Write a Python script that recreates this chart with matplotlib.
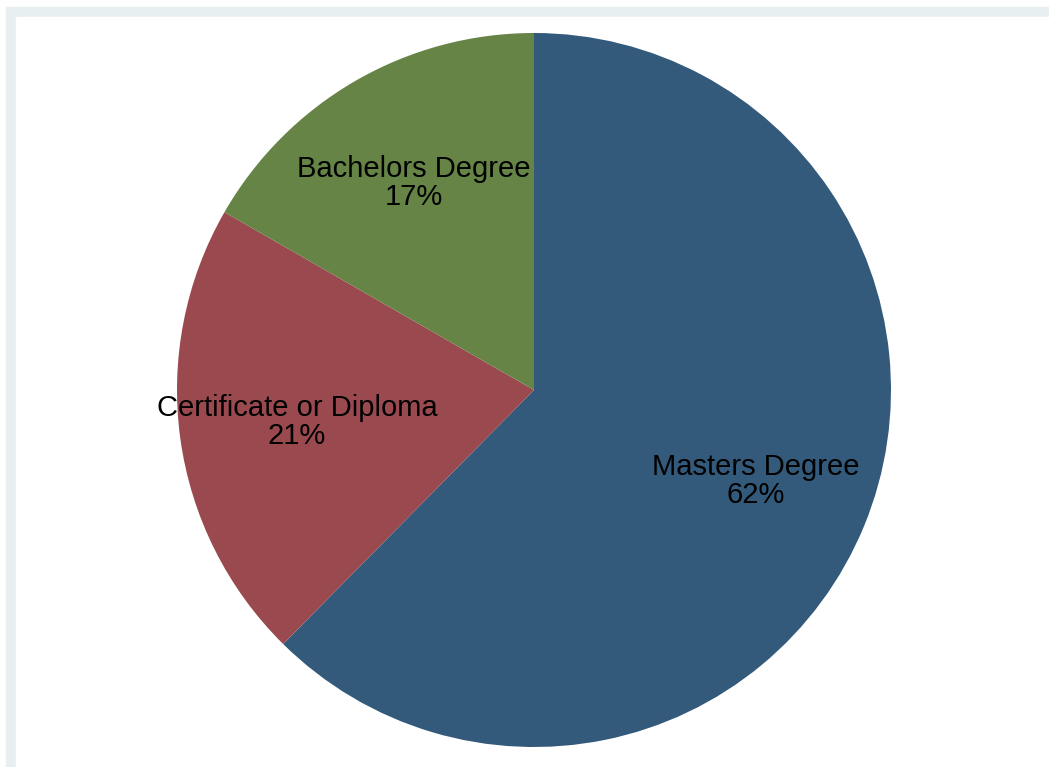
import matplotlib.pyplot as plt
from matplotlib.patches import Rectangle

# Shares by highest qualification (percent)
labels = ['Masters Degree', 'Certificate or Diploma', 'Bachelors Degree']
shares = [62.4, 20.9, 16.7]
colors = ['#33597B', '#9A4A4F', '#658445']

plt.rcParams['font.family'] = ['Liberation Sans', 'DejaVu Sans']

W, H = 1049, 767
fig = plt.figure(figsize=(W / 100, H / 100), dpi=100)

# Stata-like light frame around the graph region (cropped on right/bottom)
fig.patches.append(Rectangle((6 / W, -0.1), 1.2, (H - 7) / H + 0.1,
                             transform=fig.transFigure, color='#E8EFF1', zorder=-10))
fig.patches.append(Rectangle((16 / W, -0.1), 1.2, (H - 17) / H + 0.1,
                             transform=fig.transFigure, color='white', zorder=-9))

ax = fig.add_axes([177 / W, 20 / H, 714 / W, 714 / H])
ax.set_zorder(5)

names = iter(labels)


def fmt(p):
    return '%s\n%.0f%%' % (next(names), p)


wedges, texts, autotexts = ax.pie(
    shares, colors=colors, startangle=90, counterclock=False,
    autopct=fmt, pctdistance=0.67, radius=1,
    wedgeprops={'linewidth': 0},
    textprops={'fontsize': 21, 'color': 'black', 'linespacing': 1.0})

for w in wedges:
    w.set_clip_on(False)

ax.set_xlim(-1, 1)
ax.set_ylim(-1, 1)
ax.set_aspect('equal')
ax.axis('off')

fig.savefig('out.png', dpi=100)
